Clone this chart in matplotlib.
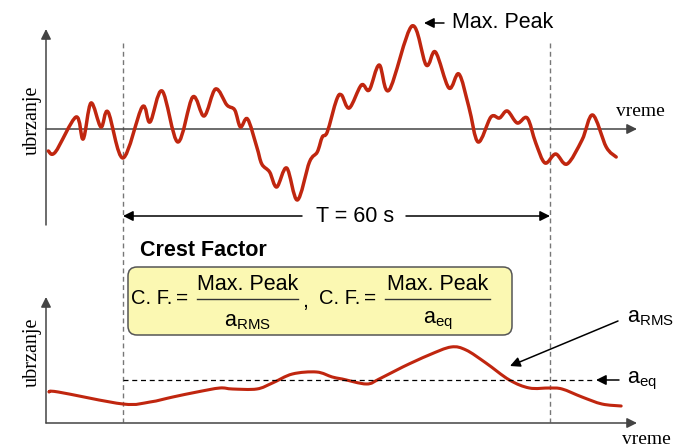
import numpy as np
import matplotlib
matplotlib.use("Agg")
import matplotlib.pyplot as plt
from matplotlib.path import Path
from matplotlib.patches import PathPatch, FancyBboxPatch

plt.rcParams['font.family'] = ['Liberation Sans', 'DejaVu Sans']
plt.rcParams['mathtext.default'] = 'regular'

# top signal: time (s) and acceleration (arbitrary units)
t_sig = [-10.5, -9.5, -6.6, -5.6, -4.5, -3.1, -2.1, 0.0, 2.7, 3.8, 5.5, 7.7, 9.8,
         11.4, 13.0, 14.6, 15.7, 16.5, 17.5, 18.8, 19.5, 20.6, 21.6, 23.0, 24.5,
         26.2, 27.3, 28.0, 28.7, 30.0, 30.7, 31.8, 33.5, 34.6, 36.0, 37.4, 40.6,
         42.6, 43.9, 45.8, 47.2, 48.6, 49.9, 51.7, 52.9, 54.0, 55.4, 56.8, 58.0,
         59.3, 60.8, 62.4, 64.5, 66.0, 67.9, 69.3]
a_sig = [-2.2, -2.3, 1.2, -1.0, 2.6, 0.2, 1.7, -2.9, 2.2, 0.7, 3.8, -1.3, 3.2,
         1.3, 4.0, 2.4, 1.9, 0.2, 1.0, -1.8, -3.5, -4.3, -5.8, -3.9, -7.1,
         -3.3, -2.3, -0.8, -0.3, 2.9, 3.4, 2.1, 4.4, 3.9, 6.4, 3.9, 10.3,
         6.4, 7.7, 4.1, 5.5, 2.2, -1.3, 1.2, 1.1, 1.8, 0.6, 1.1, -1.4,
         -3.4, -2.5, -3.5, -1.1, 1.4, -1.8, -2.8]

# bottom: running RMS
t_rms = [-10.4, -9.1, 0.0, 3.8, 7.0, 10.4, 13.6, 15.4, 18.8, 21.0, 23.8, 27.2,
         29.4, 30.8, 34.2, 36.0, 39.3, 43.0, 46.1, 48.2, 51.0, 54.3, 57.1, 59.9,
         61.7, 64.5, 67.3, 70.0]
a_rms = [3.1, 3.1, 1.9, 2.1, 2.6, 3.1, 3.5, 3.4, 3.4, 4.0, 4.9, 5.1,
         4.6, 4.4, 3.9, 4.4, 5.6, 6.8, 7.6, 7.3, 6.0, 4.3, 3.5, 3.5,
         3.4, 2.6, 1.9, 1.7]
a_eq = 4.3
T = 60

red = '#c0260f'
W, H = 673, 448


def smooth_path(x, y):
    # catmull-rom through the points, drawn as cubic bezier
    p = np.column_stack([x, y]).astype(float)
    p = np.vstack([p[0], p, p[-1]])
    verts = [p[1]]
    codes = [Path.MOVETO]
    for i in range(1, len(p) - 2):
        c1 = p[i] + (p[i + 1] - p[i - 1]) / 6
        c2 = p[i + 1] - (p[i + 2] - p[i]) / 6
        verts += [c1, c2, p[i + 1]]
        codes += [Path.CURVE4] * 3
    return Path(verts, codes)


fig = plt.figure(figsize=(W / 100, H / 100), dpi=100)
fig.patch.set_facecolor('white')

# pixel axes for layout
ax = fig.add_axes([0, 0, 1, 1])
ax.set_xlim(0, W)
ax.set_ylim(H, 0)
ax.axis('off')

# pixel mapping: t=0 at x=123, t=60 at x=550
px_per_s = (550 - 123) / T
tx0 = -123 / px_per_s
tx1 = (W - 123) / px_per_s

ax_top = fig.add_axes([0, 0, 1, 1])
ax_top.set_xlim(tx0, tx1)
ax_top.set_ylim((129 - H) / 10, 129 / 10)
ax_top.axis('off')

ax_bot = fig.add_axes([0, 0, 1, 1])
ax_bot.set_xlim(tx0, tx1)
ax_bot.set_ylim((423 - H) / 10, 423 / 10)
ax_bot.axis('off')

ax_top.add_patch(PathPatch(smooth_path(t_sig, a_sig), fill=False, ec=red, lw=2.5,
                           capstyle='round', joinstyle='round'))
ax_bot.add_patch(PathPatch(smooth_path(t_rms, a_rms), fill=False, ec=red, lw=2.2,
                           capstyle='round', joinstyle='round'))

# a_eq level
ax_bot.plot([0, (593 - 123) / px_per_s], [a_eq, a_eq], color='black', lw=0.9,
            dashes=(4, 3))

# dashed bounds of T window
for xv in (123, 550):
    ax.plot([xv, xv], [43, 422], color='#777777', lw=1, dashes=(3.5, 2.5))

ap = dict(arrowstyle='-|>', color='#444444', lw=1.1, mutation_scale=15,
          shrinkA=0, shrinkB=0)
# axes
ax.annotate('', xy=(46, 29), xytext=(46, 225), arrowprops=ap)
ax.annotate('', xy=(637, 129), xytext=(46, 129), arrowprops=ap)
ax.annotate('', xy=(46, 297), xytext=(46, 423), arrowprops=ap)
ax.annotate('', xy=(637, 423), xytext=(46, 423), arrowprops=ap)

serif = ['Liberation Serif', 'DejaVu Serif']
ax.text(32, 120, 'ubrzanje', rotation=90, ha='center', va='center', fontsize=14.5,
        family=serif)
ax.text(32, 352, 'ubrzanje', rotation=90, ha='center', va='center', fontsize=14.5,
        family=serif)
ax.text(640, 112, 'vreme', ha='center', va='center', fontsize=14, family=serif)
ax.text(646, 440, 'vreme', ha='center', va='center', fontsize=14, family=serif)

ap2 = dict(arrowstyle='-|>', color='black', lw=1.1, mutation_scale=15,
           shrinkA=0, shrinkB=0)
# max peak
ax.annotate('', xy=(424, 23), xytext=(444, 23), arrowprops=ap2)
ax.text(452, 23, 'Max. Peak', ha='left', va='center', fontsize=15.5)

# T = 60 s
ax.annotate('', xy=(123, 216), xytext=(302, 216), arrowprops=ap2)
ax.annotate('', xy=(550, 216), xytext=(406, 216), arrowprops=ap2)
ax.text(355, 216, 'T = %d s' % T, ha='center', va='center', fontsize=15.5)

# crest factor box
ax.text(140, 250, 'Crest Factor', ha='left', va='center', fontsize=15.5,
        fontweight='bold')
box = FancyBboxPatch((128, 267), 512 - 128, 335 - 267,
                     boxstyle='round,pad=0,rounding_size=9',
                     fc='#fbf8b2', ec='#555555', lw=1.1)
ax.add_patch(box)

for x0, xl, xr, den in ((131, 197, 298, r'$a_{RMS}$'), (319, 385, 490, r'$a_{eq}$')):
    ax.text(x0, 298, 'C. F.', ha='left', va='center', fontsize=14.5)
    ax.text(x0 + 51, 298, '=', ha='center', va='center', fontsize=15)
    xc = (xl + xr) / 2
    ax.text(xc, 284, 'Max. Peak', ha='center', va='center', fontsize=15.5)
    ax.plot([xl, xr], [299, 299], color='#333333', lw=1)
    ax.text(xc, 321, den, ha='center', va='center', fontsize=15.5)
ax.text(305, 301, ',', ha='center', va='center', fontsize=15.5)

# a_RMS and a_eq labels
ax.annotate('', xy=(510, 366), xytext=(618, 321), arrowprops=ap2)
ax.text(627, 318, r'$a_{RMS}$', ha='left', va='center', fontsize=15.5)
ax.annotate('', xy=(596, 380), xytext=(619, 380), arrowprops=ap2)
ax.text(627, 381, r'$a_{eq}$', ha='left', va='center', fontsize=15.5)

fig.savefig('out.png', dpi=100, facecolor='white')
